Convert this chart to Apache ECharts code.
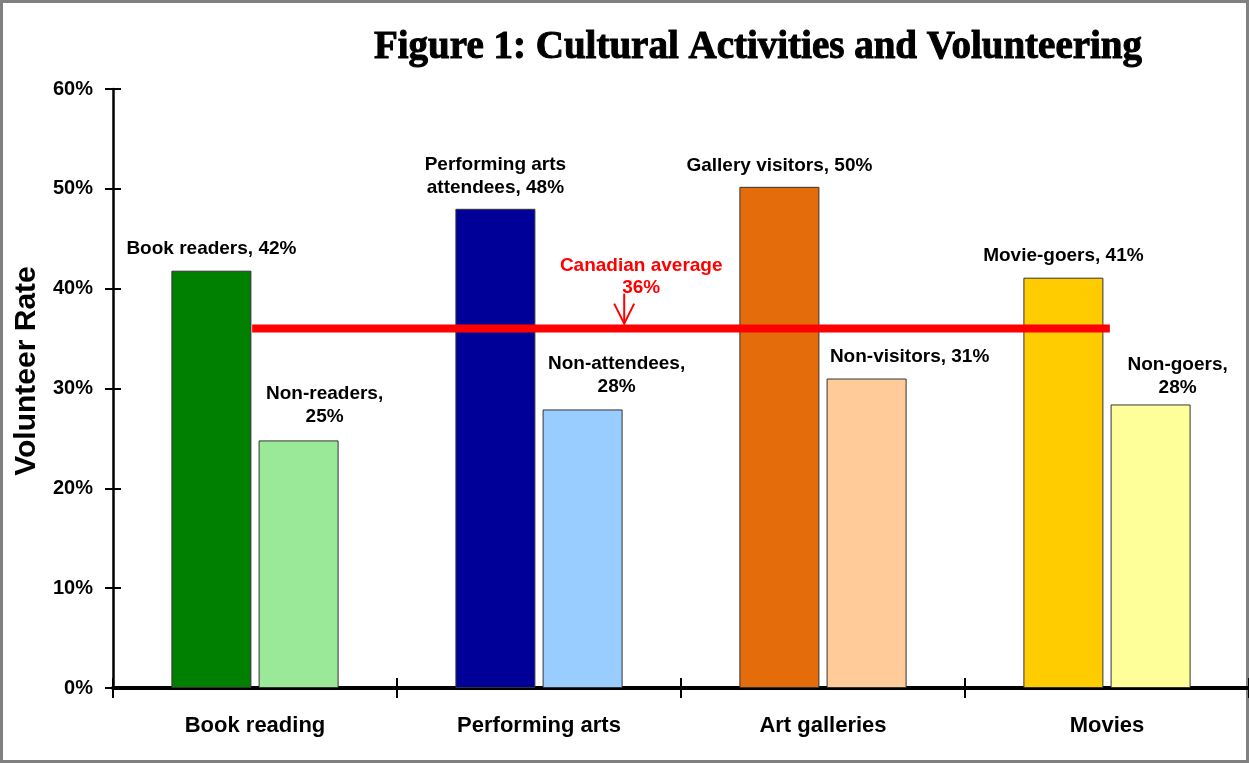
<!DOCTYPE html>
<html>
<head>
<meta charset="utf-8">
<title>Figure 1: Cultural Activities and Volunteering</title>
<script src="https://cdn.jsdelivr.net/npm/echarts@6/dist/echarts.min.js"></script>
<style>
  html, body { margin: 0; padding: 0; background: #fff; }
  #chart { width: 1249px; height: 763px; }
</style>
</head>
<body>
<div id="chart"></div>
<script>
// data
var categories = ['Book reading', 'Performing arts', 'Art galleries', 'Movies'];
var participantNames = ['Book readers, ', 'Performing arts\nattendees, ', 'Gallery visitors, ', 'Movie-goers, '];
var nonParticipantNames = ['Non-readers,\n', 'Non-attendees,\n', 'Non-visitors, ', 'Non-goers,\n'];
var participantRates = [41.8, 48.0, 50.2, 41.1];
var nonParticipantRates = [24.8, 27.9, 31.0, 28.4];
var canadianAverage = 36;
var yTicks = ['0%', '10%', '20%', '30%', '40%', '50%', '60%'];

// colours per category (strong / pale)
var strongColors = ['#008000', '#000099', '#e46c0a', '#ffcc00'];
var paleColors = ['#99e999', '#99ccff', '#ffcc99', '#ffff99'];
// label shifts for the pale bars
var paleLabelOffset = [[26, -2], [34, -1], [43, 0], [27, 5]];

var FONT = '"Liberation Sans", Arial, sans-serif';

function buildItems(values, colors, offsets) {
  return values.map(function (v, i) {
    var item = {
      value: v,
      itemStyle: { color: colors[i], borderColor: '#333', borderWidth: 1 }
    };
    if (offsets) item.label = { offset: offsets[i] };
    return item;
  });
}

var labelStyle = {
  show: true,
  position: 'top',
  distance: 10,
  color: '#000',
  fontFamily: FONT,
  fontWeight: 'bold',
  fontSize: 19,
  lineHeight: 23,
  align: 'center'
};

var yAxisBase = {
  type: 'value',
  min: 0,
  max: 60,
  interval: 10,
  position: 'left',
  splitLine: { show: false }
};

// the average line runs from the first strong bar's right edge
// to the last strong bar's right edge (in category units)
var n = categories.length;
var avgLine = [[0.49, canadianAverage], [n - 0.49, canadianAverage]];

var option = {
  animation: false,
  backgroundColor: '#fff',
  title: {
    text: 'Figure 1: Cultural Activities and Volunteering',
    left: 753,
    top: 23,
    textAlign: 'center',
    textStyle: {
      fontFamily: '"Liberation Serif", "Times New Roman", serif',
      fontWeight: 'bold',
      fontSize: 39,
      color: '#000',
      textBorderColor: '#000',
      textBorderWidth: 1
    }
  },
  grid: { left: 113, right: -1, top: 89, bottom: 75 },
  xAxis: [{
    type: 'category',
    data: categories,
    axisLine: { lineStyle: { color: '#000', width: 4 } },
    axisTick: { show: true, length: 10, lineStyle: { color: '#000', width: 2 } },
    axisLabel: {
      margin: 27,
      color: '#000',
      fontFamily: FONT,
      fontWeight: 'bold',
      fontSize: 22
    }
  }, {
    type: 'category',
    data: categories,
    position: 'bottom',
    axisLine: { show: false },
    axisTick: { show: true, inside: true, length: 10, lineStyle: { color: '#000', width: 2 } },
    axisLabel: { show: false }
  }, {
    type: 'value',
    min: 0,
    max: n,
    show: false
  }],
  yAxis: [Object.assign({}, yAxisBase, {
    axisLine: { show: true, lineStyle: { color: '#000', width: 2.5 } },
    axisTick: { show: true, length: 8, lineStyle: { color: '#000', width: 2 } },
    axisLabel: {
      margin: 20,
      color: '#000',
      fontFamily: FONT,
      fontWeight: 'bold',
      fontSize: 20,
      formatter: function (v) { return yTicks[v / 10]; }
    }
  }), Object.assign({}, yAxisBase, {
    axisLine: { show: false },
    axisTick: { show: true, inside: true, length: 8, lineStyle: { color: '#000', width: 2 } },
    axisLabel: { show: false }
  })],
  series: [{
    name: 'Participants',
    type: 'bar',
    barWidth: 80,
    barGap: '9%',
    data: buildItems(participantRates, strongColors),
    label: Object.assign({}, labelStyle, {
      formatter: function (p) {
        return participantNames[p.dataIndex] + Math.round(p.value) + '%';
      }
    })
  }, {
    name: 'Non-participants',
    type: 'bar',
    barWidth: 80,
    barGap: '9%',
    data: buildItems(nonParticipantRates, paleColors, paleLabelOffset),
    label: Object.assign({}, labelStyle, {
      formatter: function (p) {
        return nonParticipantNames[p.dataIndex] + Math.round(p.value) + '%';
      }
    })
  }, {
    name: 'Canadian average',
    type: 'line',
    xAxisIndex: 2,
    yAxisIndex: 0,
    z: 10,
    silent: true,
    symbol: 'none',
    lineStyle: { color: '#ff0000', width: 8, cap: 'butt' },
    data: avgLine
  }]
};

var chart = echarts.init(document.getElementById('chart'));
chart.setOption(option);

// average annotation: text and arrow between Performing arts and Art galleries
var px1 = chart.convertToPixel({ xAxisIndex: 0 }, categories[1]);
var px2 = chart.convertToPixel({ xAxisIndex: 0 }, categories[2]);
var arrowX = px1 + (px2 - px1) * 0.30;
var avgY = chart.convertToPixel({ yAxisIndex: 0 }, canadianAverage);

chart.setOption({
  graphic: [{
    type: 'rect',
    shape: { x: 1.5, y: 1.5, width: 1246, height: 760 },
    style: { fill: 'none', stroke: '#808080', lineWidth: 3 },
    silent: true
  }, {
    type: 'text',
    x: 27,
    y: 371,
    rotation: Math.PI / 2,
    style: {
      text: 'Volunteer Rate',
      fill: '#000',
      font: 'bold 30px ' + FONT,
      align: 'center',
      verticalAlign: 'middle'
    }
  }, {
    type: 'text',
    x: arrowX + 17,
    y: avgY - 74,
    style: {
      text: 'Canadian average\n' + canadianAverage + '%',
      fill: '#ff0000',
      font: 'bold 19px ' + FONT,
      lineHeight: 22,
      align: 'center',
      verticalAlign: 'top'
    }
  }, {
    type: 'polyline',
    shape: { points: [[arrowX, avgY - 35], [arrowX, avgY - 5]] },
    style: { stroke: '#ff0000', lineWidth: 2 }
  }, {
    type: 'polyline',
    shape: { points: [[arrowX - 10, avgY - 25], [arrowX, avgY - 5], [arrowX + 10, avgY - 25]] },
    style: { stroke: '#ff0000', lineWidth: 2, fill: 'none' }
  }]
});
</script>
</body>
</html>
